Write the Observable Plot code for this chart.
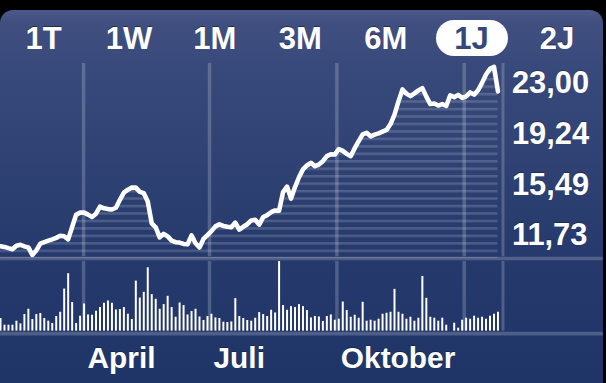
<!DOCTYPE html>
<html><head><meta charset="utf-8">
<script src="https://cdn.jsdelivr.net/npm/d3@7"></script>
<script src="https://cdn.jsdelivr.net/npm/@observablehq/plot@0.6"></script>
<style>
html,body{margin:0;padding:0;background:#000;width:606px;height:383px;overflow:hidden;}
#panel{position:absolute;left:0;top:10px;width:603px;height:373px;border-radius:13px 13px 0 0;overflow:hidden;
 background:linear-gradient(#4b5a87 0px,#404f80 12px,#384a7b 53px,#2f4273 150px,#25396c 250px,#1f3467 373px);}
#tabs{position:absolute;left:0;top:0;width:603px;height:53px;font:bold 31px "Liberation Sans",Arial,sans-serif;color:#fff;}
.tab{position:absolute;top:10px;height:36px;width:72px;line-height:37px;text-align:center;text-shadow:0 -1px 0 rgba(0,0,0,.45);}
.tab.sel{background:#fff;color:#34467a;border-radius:18px;text-shadow:none;}
#price{position:absolute;left:0;top:53px;}
#vol{position:absolute;left:0;top:251px;}
svg text{text-shadow:0 -1px 0 rgba(0,0,0,.3);}
</style></head>
<body>
<div id="panel"><div id="tabs"></div><div id="price"></div><div id="vol"></div></div>
<script>
// ---- data ----
const tabLabels = ["1T","1W","1M","3M","6M","1J","2J"];
const selectedTab = "1J";
const priceTicks = [23.00, 19.24, 15.49, 11.73];
const monthLabels = ["April","Juli","Oktober"];
const monthStarts = ["2012-04-01","2012-07-01","2012-10-01"];
const quarterLines = ["2012-04-01","2012-07-01","2012-10-01","2013-01-01"];
const firstDate = "2012-02-01";
const axisEndDate = "2013-01-29";
const stepDays = 2.875;
const prices = [
 10.94,10.89,10.80,10.72,10.98,11.05,10.93,10.85,10.30,10.63,
 11.14,11.25,11.35,11.45,11.56,11.72,11.68,11.45,12.36,13.27,
 13.43,13.43,13.28,13.11,13.35,13.88,13.75,13.69,13.66,13.79,
 14.38,14.91,15.13,15.29,15.28,14.97,14.87,14.25,12.64,12.34,
 11.60,11.86,11.67,11.36,11.24,11.21,11.11,11.08,11.75,11.16,
 10.85,11.48,11.77,12.06,12.41,12.56,12.44,12.38,12.35,12.69,
 12.17,12.38,12.57,12.85,12.90,12.54,13.10,13.24,13.46,13.59,
 13.57,14.95,15.36,14.47,15.32,16.05,16.63,16.92,17.12,16.87,
 16.99,17.24,17.61,17.75,17.73,18.14,18.00,17.78,17.61,18.20,
 18.72,19.22,19.34,19.08,19.20,19.30,19.43,19.55,19.99,20.69,
 21.67,22.55,22.24,22.06,22.26,22.48,22.65,22.02,21.47,21.51,
 21.36,21.47,21.33,22.12,21.98,22.15,21.93,22.03,22.33,22.17,
 22.49,23.04,23.66,24.08,24.22,22.41];
const volumes = [
 12.7,6,6,6,10,7.3,16.7,22,11.7,16.7,
 17.7,12.7,10,7.7,14.7,19,42.3,57.7,28.7,7.7,
 15,27.3,16.3,16,20,23.7,28,30.3,28,21.3,
 21.7,23.7,17,11.7,50.3,33.3,39,63.7,36.7,32,
 22,26.7,35,23.7,14,28.3,25.7,16.3,19.7,22,
 14.3,10.7,14.7,17,13.3,12.7,9,8.7,9.3,32.7,
 14.7,12.7,10.7,10,13,18.7,16.7,14.7,21,18.3,
 70,25.7,21,24.7,23.7,26.7,24.7,20.7,13.3,14.7,
 14.3,9.7,14.7,16.3,11,12,29.3,20.7,
 14,16,13,29,10,11,10,12,17,18,
 19,42,19,17,12,14,10,13,55,33,
 14,13,10,13,6,0,8,3,11,13,
 12,15,13,14,12,15,17,19];
const yLo = 10.03, yHi = 24.474, volMax = 70;

// ---- build ----
const parse = d3.timeParse("%Y-%m-%d");
const DAY = 864e5;
const t0 = parse(firstDate), xEnd = parse(axisEndDate);
const series = prices.map((p, i) => ({date: new Date(+t0 + i * stepDays * DAY), price: p, volume: volumes[i]}));
const quarters = quarterLines.map(parse);
const months = monthStarts.map((d, i) => ({date: parse(d), label: monthLabels[i]}));
const fmt = d => d.toFixed(2).replace(".", ",");

const tabs = document.getElementById("tabs");
tabLabels.forEach((t, i) => {
  const el = document.createElement("div");
  el.className = "tab" + (t === selectedTab ? " sel" : "");
  el.style.left = (43.5 + i * 85.6 - 36) + "px";
  el.textContent = t;
  tabs.appendChild(el);
});

const W = 606, MR = 101;
const grid = {stroke: "#fff", strokeOpacity: 0.2, strokeWidth: 3.5};
const style = {background: "none", fontFamily: "'Liberation Sans', Arial, sans-serif", overflow: "visible"};

const priceSvg = Plot.plot({
  width: W, height: 198, marginTop: 0, marginRight: MR, marginBottom: 2, marginLeft: 0,
  x: {type: "time", domain: [t0, xEnd], axis: null},
  y: {domain: [yLo, yHi], axis: null},
  style,
  marks: [
    Plot.ruleX(quarters, {...grid, insetBottom: 1.75}),
    Plot.ruleX([xEnd], {...grid, strokeWidth: 3, insetBottom: 1.75}),
    Plot.areaY(series, {x: "date", y1: yLo, y2: "price", fill: "url(#stripes)"}),
    Plot.lineY(series, {x: "date", y: "price", stroke: "#fff", strokeWidth: 4.6, strokeLinejoin: "round", strokeLinecap: "round"}),
    Plot.ruleY([yLo], {...grid, insetRight: -MR}),
    Plot.axisY(priceTicks, {anchor: "right", label: null, tickSize: 0, tickPadding: 9, fontSize: 31, fontWeight: "bold", fill: "#fff", tickFormat: fmt})
  ]
});
const defs = document.createElementNS("http://www.w3.org/2000/svg", "defs");
defs.innerHTML = '<pattern id="stripes" patternUnits="userSpaceOnUse" width="10" height="7.5"><rect width="10" height="2.5" fill="#fff" fill-opacity="0.17"/></pattern>';
priceSvg.insertBefore(defs, priceSvg.firstChild);
document.getElementById("price").appendChild(priceSvg);

const volSvg = Plot.plot({
  width: W, height: 122, marginTop: 0, marginRight: MR, marginBottom: 52, marginLeft: 0,
  x: {type: "time", domain: [t0, xEnd], axis: null},
  y: {domain: [0, volMax], axis: null},
  style,
  marks: [
    Plot.ruleX(quarters, grid),
    Plot.ruleX([xEnd], {...grid, strokeWidth: 3}),
    Plot.ruleX(series, {x: "date", y: "volume", stroke: "#fff", strokeWidth: 2}),
    Plot.ruleY([0], {...grid, strokeWidth: 3.6, dy: 2.5, insetRight: -MR}),
    Plot.text(months, {x: "date", text: "label", frameAnchor: "bottom", dy: 37, dx: 4, textAnchor: "start", fontSize: 30, fontWeight: "bold", fill: "#fff"})
  ]
});
document.getElementById("vol").appendChild(volSvg);
</script>
</body></html>
